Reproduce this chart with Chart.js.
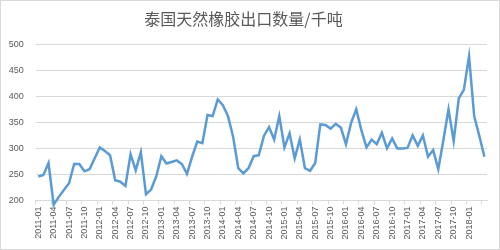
<!DOCTYPE html>
<html>
<head>
<meta charset="utf-8">
<script src="https://cdn.jsdelivr.net/npm/chart.js@4"></script>
<style>
  html, body { margin: 0; padding: 0; background: #fff; }
  #wrap { width: 500px; height: 250px; }
</style>
</head>
<body>
<div id="wrap"><canvas id="chart" width="500" height="250"></canvas></div>
<script>
const chartTitle = '泰国天然橡胶出口数量/千吨';

// monthly, 2011-01 .. 2018-04
const months = [];
for (let y = 2011; y <= 2018; y++) {
    for (let m = 1; m <= 12; m++) {
        if (y === 2018 && m > 4) break;
        months.push(y + '-' + String(m).padStart(2, '0'));
    }
}

const exportVolume = [
    246, 249, 272, 192, 207, 220, 233, 270, 270, 256, 260, 281,
    302, 295, 287, 239, 236, 228, 289, 258, 293, 212, 221, 246,
    285, 271, 274, 277, 270, 251, 284, 313, 310, 364, 362, 394,
    383, 362, 322, 262, 252, 262, 285, 287, 324, 341, 317, 362,
    302, 329, 281, 317, 262, 257, 272, 346, 345, 338, 347, 340,
    308, 349, 375, 335, 302, 317, 308, 330, 300, 319, 300, 300,
    301, 325, 305, 325, 284, 297, 260, 316, 375, 314, 396, 413,
    477, 362, 324, 284
];

const yMin = 200;
const yMax = 500;
const yStep = 50;

const gridColor = '#d9d9d9';
const textColor = '#595959';

const frame = {
    id: 'frame',
    afterDraw(chart) {
        const ctx = chart.ctx;
        ctx.save();
        ctx.strokeStyle = gridColor;
        ctx.lineWidth = 1;
        ctx.strokeRect(0.5, 0.5, chart.width - 1, chart.height - 1);
        ctx.restore();
    }
};

const ctx = document.getElementById('chart').getContext('2d');
new Chart(ctx, {
    type: 'line',
    data: {
        labels: months,
        datasets: [{
            data: exportVolume,
            borderColor: '#5b9bd5',
            borderWidth: 2.5,
            pointRadius: 0,
            tension: 0,
            fill: false,
            clip: false
        }]
    },
    options: {
        responsive: false,
        animation: false,
        layout: { padding: { left: 0, right: 13, top: 0, bottom: 0 } },
        plugins: {
            legend: { display: false },
            tooltip: { enabled: false },
            title: {
                display: true,
                text: chartTitle,
                color: textColor,
                font: { family: '"Noto Sans CJK SC", sans-serif', size: 16, weight: 'normal' },
                padding: { top: 9, bottom: 16 }
            }
        },
        scales: {
            x: {
                type: 'category',
                offset: true,
                afterFit: s => { s.height = 49.5; },
                grid: {
                    offset: true,
                    drawOnChartArea: false,
                    drawTicks: true,
                    tickLength: 4,
                    color: c => (c.index % 3 === 0 ? gridColor : 'rgba(0,0,0,0)')
                },
                border: { color: gridColor },
                ticks: {
                    autoSkip: false,
                    minRotation: 90,
                    maxRotation: 90,
                    padding: 2,
                    color: textColor,
                    font: { family: '"Liberation Sans", sans-serif', size: 9 },
                    // Excel shows every third month, the partial last group gets no label
                    callback: function (v, i) {
                        return (i % 3 === 0 && i + 3 <= months.length) ? this.getLabelForValue(v) : '';
                    }
                }
            },
            y: {
                min: yMin,
                max: yMax,
                afterFit: s => { s.width = 35.7; },
                grid: { color: gridColor, drawTicks: false },
                border: { display: false },
                ticks: {
                    stepSize: yStep,
                    padding: 12,
                    color: textColor,
                    font: { family: '"Liberation Sans", sans-serif', size: 9 }
                }
            }
        }
    },
    plugins: [frame]
});
</script>
</body>
</html>
